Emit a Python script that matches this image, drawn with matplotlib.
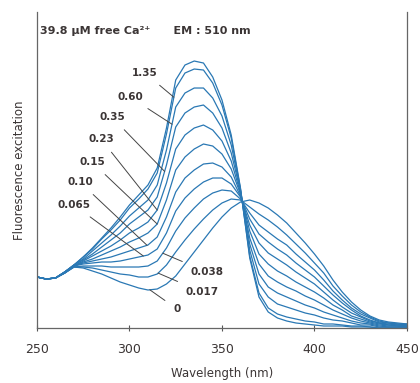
import numpy as np
import matplotlib
matplotlib.use('Agg')
import matplotlib.pyplot as plt

plt.rcParams['font.family'] = ['DejaVu Sans']

wl = np.arange(250, 451, 5)

# excitation spectra (arbitrary units), top curve = 39.8 uM
ca_398 = [51, 49, 50, 56, 63, 71, 80, 90, 100, 111, 123, 133, 143, 160, 200, 248, 263, 267, 265, 251,
          228, 193, 140, 70, 31, 16, 10, 7, 5, 4, 3, 2, 2, 2, 1, 1, 1, 0, 0, 0, 0]
ca_135 = [51, 49, 50, 56, 63, 71, 79, 89, 98, 108, 120, 129, 139, 155, 194, 240, 255, 259, 258, 245,
          223, 190, 139, 72, 35, 20, 14, 11, 9, 7, 6, 4, 4, 3, 2, 2, 1, 0, 0, 0, 0]
ca_060 = [51, 49, 50, 56, 63, 69, 77, 85, 93, 102, 112, 120, 128, 143, 178, 221, 235, 240, 240, 230,
          212, 183, 138, 78, 44, 31, 24, 21, 18, 15, 13, 10, 8, 7, 5, 3, 3, 1, 1, 1, 1]
ca_035 = [51, 49, 50, 56, 63, 68, 74, 81, 88, 95, 104, 111, 118, 131, 163, 201, 215, 221, 223, 215,
          200, 175, 137, 84, 54, 41, 35, 31, 27, 23, 20, 16, 13, 10, 7, 5, 4, 2, 1, 1, 1]
ca_023 = [51, 49, 50, 56, 62, 67, 72, 77, 82, 88, 95, 100, 106, 118, 145, 179, 193, 200, 203, 198,
          187, 167, 135, 90, 64, 52, 46, 41, 37, 32, 28, 23, 18, 14, 10, 7, 5, 3, 2, 2, 1]
ca_015 = [51, 49, 50, 56, 62, 66, 69, 73, 77, 81, 86, 90, 95, 104, 128, 158, 171, 179, 184, 182,
          174, 159, 134, 97, 74, 64, 57, 52, 46, 41, 36, 30, 23, 18, 12, 9, 6, 4, 3, 2, 2]
ca_010 = [51, 49, 50, 55, 62, 65, 67, 69, 71, 74, 77, 80, 83, 91, 111, 136, 150, 158, 164, 165,
          161, 151, 132, 103, 85, 75, 69, 63, 56, 50, 44, 36, 28, 21, 15, 11, 7, 5, 3, 3, 2]
ca_0065 = [51, 49, 50, 55, 62, 64, 65, 66, 66, 67, 69, 71, 73, 79, 95, 117, 130, 139, 146, 150,
           150, 144, 131, 109, 94, 86, 79, 73, 65, 58, 51, 42, 33, 25, 18, 12, 8, 5, 4, 3, 3]
ca_0038 = [51, 49, 50, 55, 61, 62, 62, 62, 61, 61, 61, 61, 62, 67, 80, 97, 110, 120, 129, 135,
           138, 137, 129, 115, 103, 96, 89, 83, 74, 66, 58, 48, 37, 28, 20, 14, 10, 6, 5, 4, 3]
ca_0017 = [51, 49, 50, 55, 61, 61, 60, 58, 56, 54, 53, 51, 51, 54, 63, 76, 88, 99, 109, 118,
           125, 129, 128, 121, 114, 108, 101, 93, 84, 75, 65, 55, 42, 32, 23, 16, 11, 7, 5, 4, 4]
ca_0 = [51, 49, 50, 55, 61, 60, 57, 54, 50, 46, 43, 40, 38, 39, 44, 52, 64, 76, 88, 100,
        111, 120, 126, 128, 125, 120, 113, 105, 95, 85, 74, 62, 48, 36, 26, 18, 12, 8, 6, 5, 4]

curves = [ca_398, ca_135, ca_060, ca_035, ca_023, ca_015, ca_010, ca_0065, ca_0038, ca_0017, ca_0]
labels = [None, '1.35', '0.60', '0.35', '0.23', '0.15', '0.10', '0.065', '0.038', '0.017', '0']
# (label x, label y, wavelength where the leader hits the curve)
label_pos = [None, (308.4, 255, 324), (300.3, 231, 323), (290.5, 211, 319), (284.6, 189, 315),
             (279.7, 166, 315), (273.2, 146, 309.5), (270.0, 123, 307.5), (341.9, 56, 318),
             (339.2, 36, 315.5), (325.7, 19, 311)]

xticks = [250, 300, 350, 400, 450]

fig = plt.figure(figsize=(4.2, 3.83), dpi=100)
ax = fig.add_axes([0.088, 0.1436, 0.881, 0.825])

blue = '#2a78b4'
for y in curves:
    ax.plot(wl, y, color=blue, lw=0.9)

txtc = '#3b3535'
for lab, pos, y in zip(labels, label_pos, curves):
    if lab is None:
        continue
    tx, ty, wx = pos
    ax.annotate(lab, xy=(wx, np.interp(wx, wl, y)), xytext=(tx, ty),
                fontsize=7.5, fontweight='bold', color=txtc, ha='center', va='center',
                arrowprops=dict(arrowstyle='-', color='#444444', lw=0.7, shrinkA=5, shrinkB=0))

fig.text(0.095, 0.92, '39.8 \u00b5M free Ca\u00b2\u207a      EM : 510 nm', fontsize=8,
         fontweight='bold', color=txtc, va='center')

ax.set_xlim(250, 450)
ax.set_ylim(0, 316)
ax.set_xticks(xticks)
ax.set_yticks([])
ax.tick_params(axis='x', direction='inout', length=5, width=0.8, labelsize=9,
               colors='#555555', labelcolor=txtc, pad=8)
ax.spines['top'].set_visible(False)
for s in ['left', 'right', 'bottom']:
    ax.spines[s].set_color('#666666')
    ax.spines[s].set_linewidth(0.9)
ax.set_xlabel('Wavelength (nm)', fontsize=8.5, color=txtc, labelpad=8)
ax.set_ylabel('Fluorescence excitation', fontsize=8.5, color=txtc, labelpad=8)

fig.savefig('out.png', dpi=100)
